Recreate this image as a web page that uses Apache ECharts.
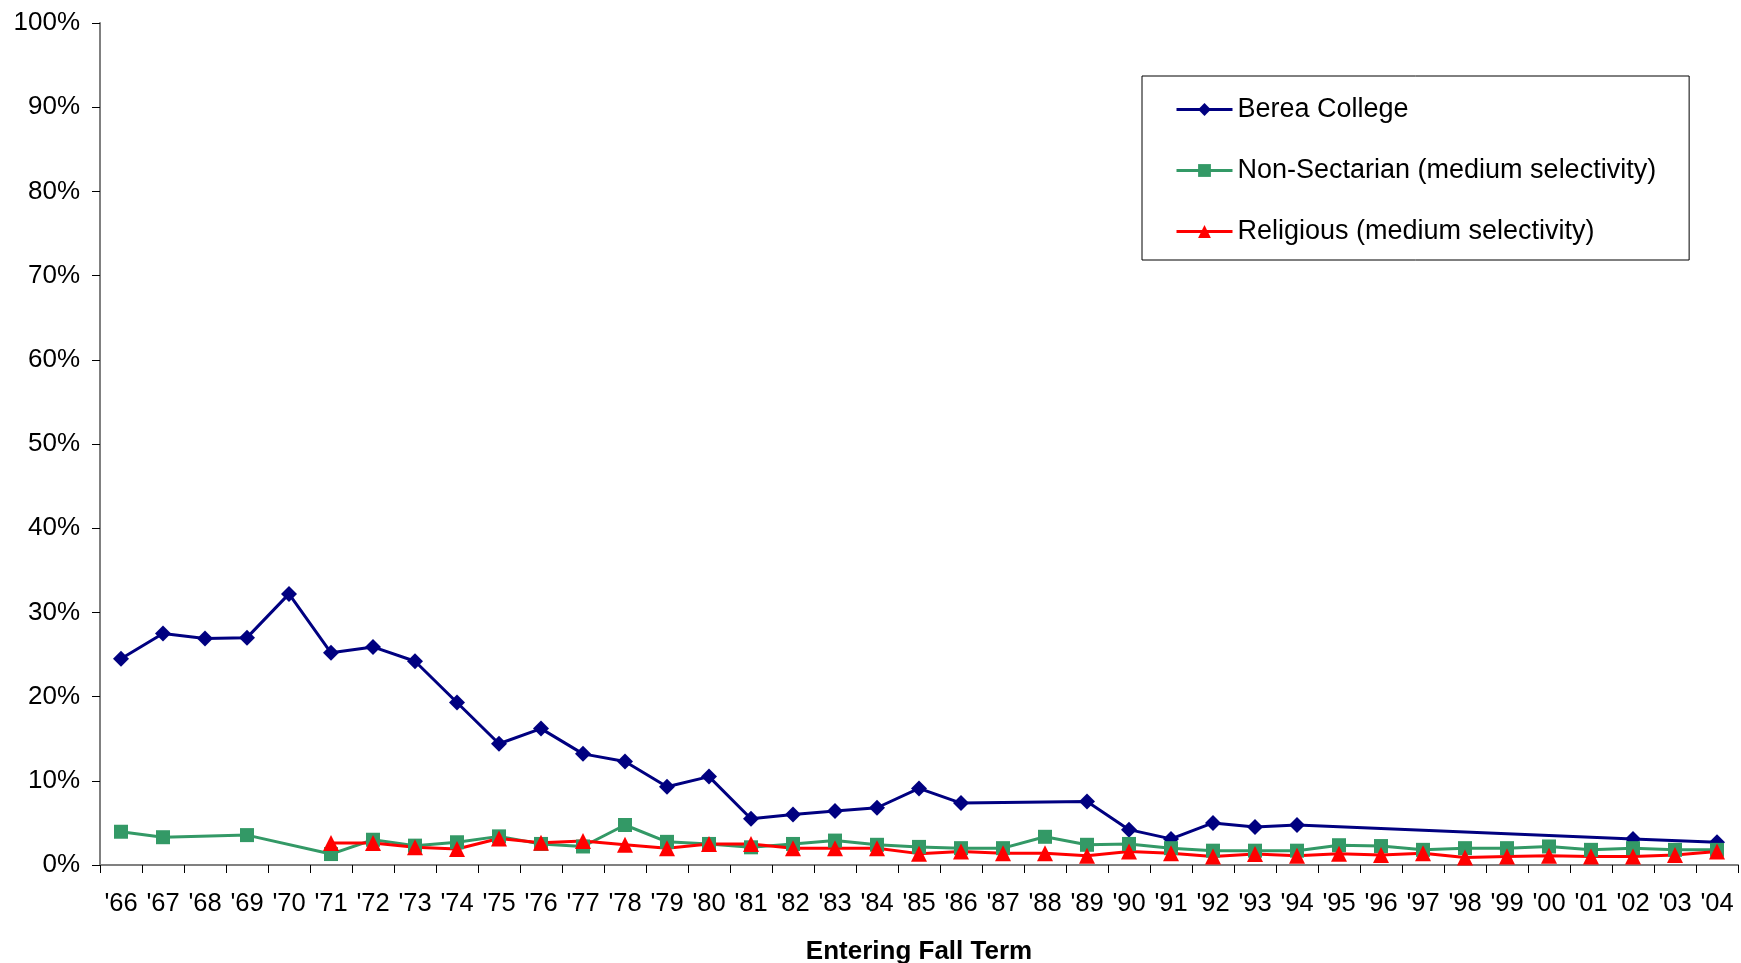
<!DOCTYPE html>
<html>
<head>
<meta charset="utf-8">
<script src="https://cdn.jsdelivr.net/npm/echarts@6/dist/echarts.min.js"></script>
<style>
html,body{margin:0;padding:0;background:#fff;}
#chart{width:1741px;height:963px;}
</style>
</head>
<body>
<div id="chart"></div>
<script>
const years = ["'66","'67","'68","'69","'70","'71","'72","'73","'74","'75","'76","'77","'78","'79","'80","'81","'82","'83","'84","'85","'86","'87","'88","'89","'90","'91","'92","'93","'94","'95","'96","'97","'98","'99","'00","'01","'02","'03","'04"];
const yTicks = [0,10,20,30,40,50,60,70,80,90,100];
const berea = [24.5,27.5,26.9,27.0,32.2,25.2,25.9,24.2,19.3,14.4,16.2,13.2,12.3,9.3,10.5,5.5,6.0,6.4,6.8,9.1,7.35,null,null,7.55,4.2,3.1,5.0,4.5,4.75,null,null,null,null,null,null,null,3.1,null,2.7];
const nonSect = [3.95,3.3,null,3.55,null,1.3,3.0,2.3,2.7,3.4,2.5,2.2,4.75,2.75,2.5,2.1,2.5,2.9,2.4,2.15,2.0,2.0,3.35,2.4,2.5,2.0,1.7,1.7,1.7,2.35,2.25,1.8,2.0,2.0,2.2,1.8,2.0,1.8,1.8];
const religious = [null,null,null,null,null,2.6,2.6,2.1,1.9,3.15,2.65,2.85,2.4,2.0,2.5,2.5,2.0,2.0,2.0,1.35,1.6,1.4,1.4,1.1,1.6,1.4,1.0,1.3,1.1,1.35,1.2,1.4,0.9,1.0,1.1,1.0,1.0,1.2,1.6];
const names = ["Berea College","Non-Sectarian (medium selectivity)","Religious (medium selectivity)"];
const xTitle = "Entering Fall Term";

const font = "Liberation Sans, Arial, sans-serif";
const chart = echarts.init(document.getElementById('chart'));
function mk(name, data, color, symbol, size){
  return {
    name: name, type: 'line', data: data, connectNulls: true,
    symbol: symbol, symbolSize: size, showSymbol: true,
    lineStyle: {color: color, width: 3},
    itemStyle: {color: color, borderWidth: 0},
    emphasis: {disabled: true}, animation: false
  };
}
chart.setOption({
  animation: false,
  backgroundColor: '#fff',
  grid: {left: 100, right: 3, top: 23, bottom: 98, containLabel: false, outerBoundsMode: 'none'},
  legend: {
    orient: 'vertical', left: 1142, top: 76,
    padding: [20, 33, 15, 33],
    itemGap: 34, itemWidth: 56, itemHeight: 16,
    borderColor: '#000', borderWidth: 1,
    lineStyle: {width: 3},
    textStyle: {fontFamily: font, fontSize: 27, color: '#000'},
    data: names
  },
  xAxis: {
    type: 'category', data: years, boundaryGap: true,
    name: xTitle, nameLocation: 'middle', nameGap: 74,
    nameTextStyle: {fontFamily: font, fontSize: 26, fontWeight: 'bold', color: '#000'},
    axisLine: {lineStyle: {color: '#808080', width: 2}},
    axisTick: {show: true, length: 8, interval: 0, lineStyle: {color: '#000', width: 1}},
    axisLabel: {interval: 0, fontFamily: font, fontSize: 25.5, color: '#000', margin: 26},
    splitLine: {show: false}
  },
  yAxis: {
    type: 'value', min: 0, max: 100, interval: 10,
    axisLine: {show: true, lineStyle: {color: '#808080', width: 2}},
    axisTick: {show: true, length: 8, lineStyle: {color: '#000', width: 1}},
    axisLabel: {fontFamily: font, fontSize: 26, color: '#000', margin: 20,
      formatter: function(v){ return yTicks.indexOf(v) >= 0 ? v + '%' : ''; }},
    splitLine: {show: false}
  },
  series: [
    mk(names[0], berea, '#000080', 'diamond', 16),
    mk(names[1], nonSect, '#339966', 'rect', 14),
    mk(names[2], religious, '#FF0000', 'triangle', 16)
  ]
});
</script>
</body>
</html>
